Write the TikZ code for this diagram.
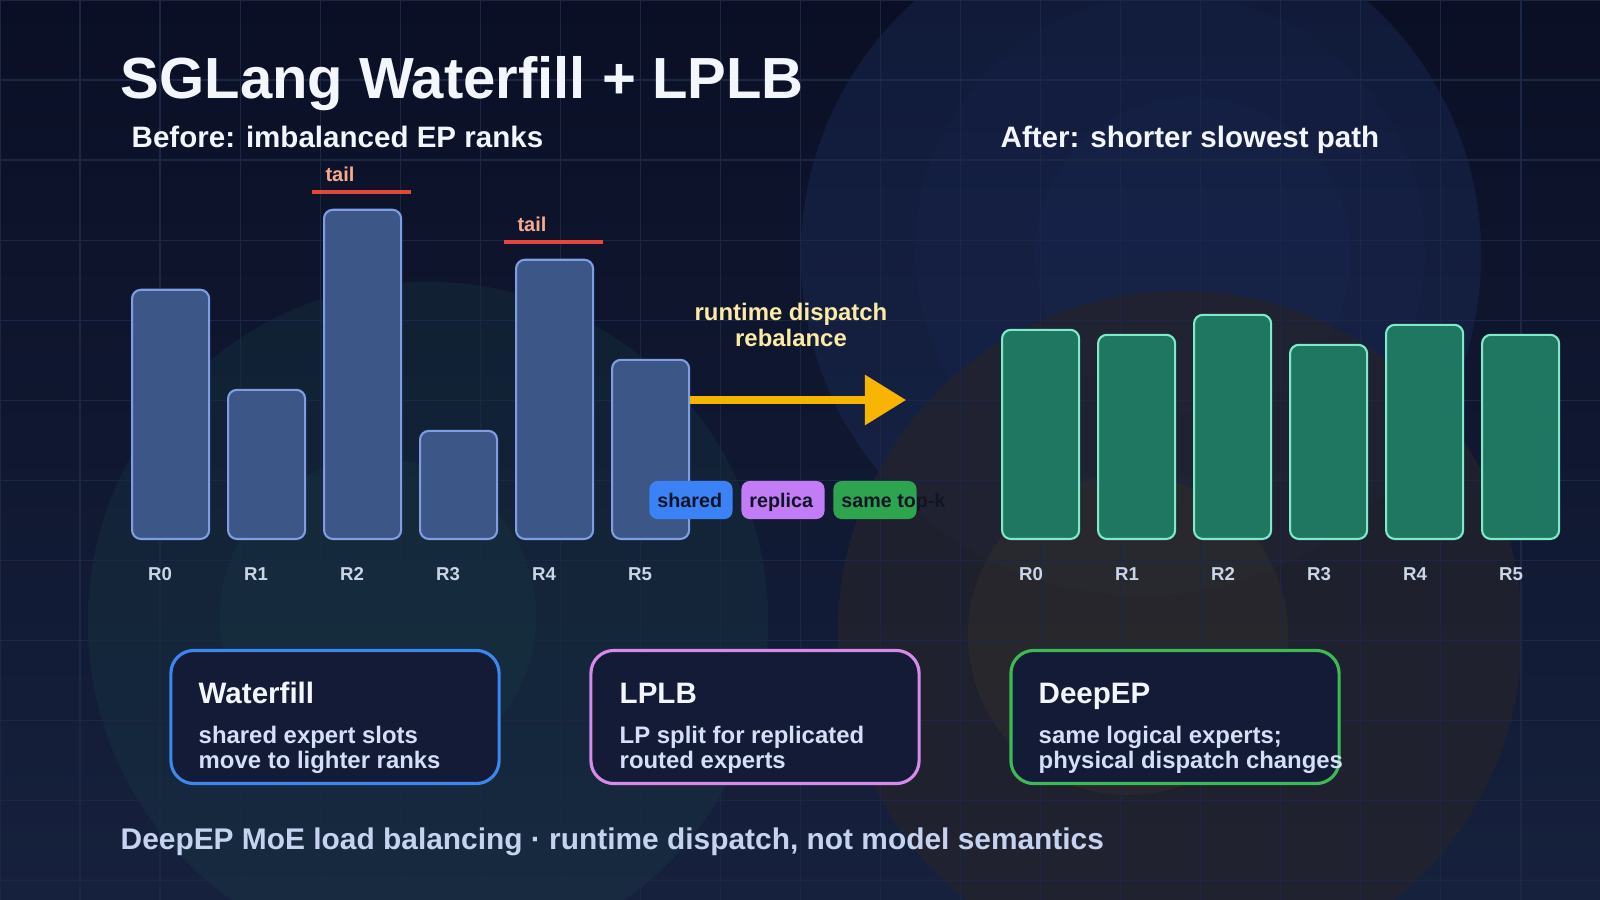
\documentclass[tikz,border=0pt]{standalone}
\usepackage{fontspec}
\setmainfont{Liberation Sans}
\usetikzlibrary{arrows.meta,positioning}
\definecolor{NightTop}{HTML}{0A0F25}
\definecolor{NightLow}{HTML}{16213D}
\definecolor{GridLine}{HTML}{1C2746}
\definecolor{BarBlue}{HTML}{3D5688}
\definecolor{BarEdge}{HTML}{7E9DE2}
\definecolor{BarGreen}{HTML}{1F7762}
\definecolor{GreenEdge}{HTML}{7FE9CA}
\definecolor{TailRed}{HTML}{E5473A}
\definecolor{TailText}{HTML}{F7A98F}
\definecolor{Amber}{HTML}{F7B500}
\definecolor{PaleYellow}{HTML}{FBEBA5}
\definecolor{TagBlue}{HTML}{3B82F6}
\definecolor{TagPurple}{HTML}{C27CF5}
\definecolor{TagGreen}{HTML}{2EA44F}
\definecolor{TagInk}{HTML}{0F1525}
\definecolor{BoxFill}{HTML}{141B36}
\definecolor{WaterEdge}{HTML}{3C86EE}
\definecolor{LPEdge}{HTML}{D68BEA}
\definecolor{DeepEdge}{HTML}{3DBA55}
\definecolor{SoftWhite}{HTML}{F3F6FB}
\definecolor{BodyText}{HTML}{D4E0F5}
\definecolor{RankText}{HTML}{CBD5E8}
\definecolor{FootText}{HTML}{C6D3F0}
\definecolor{GlowBlue}{HTML}{22356A}
\definecolor{GlowGrey}{HTML}{24232C}
\definecolor{GlowOlive}{HTML}{4A4226}
\definecolor{GlowTeal}{HTML}{1C4A4C}
\tikzset{
  oldbar/.style={draw=BarEdge, line width=0.6pt, fill=BarBlue, rounded corners=2.5pt,
    minimum width=0.77cm, inner sep=0pt, anchor=south west},
  newbar/.style={draw=GreenEdge, line width=0.6pt, fill=BarGreen, rounded corners=2.5pt,
    minimum width=0.77cm, inner sep=0pt, anchor=south west},
  infobox/.style={draw=#1, line width=0.9pt, fill=BoxFill, rounded corners=6.5pt,
    minimum width=3.28cm, minimum height=1.33cm, inner sep=0pt},
  pill/.style={fill=#1, rounded corners=2.3pt, minimum width=0.83cm,
    minimum height=0.38cm, inner sep=0pt},
  tagtext/.style={font=\fontsize{5.6}{6.5}\selectfont\bfseries, text=TagInk, inner sep=0pt,
    text height=4.2pt, text depth=0pt},
}

\begin{document}
\begin{tikzpicture}[x=0.01cm, y=-0.01cm,
  rlabel/.style={font=\fontsize{5.3}{6}\selectfont\bfseries, text=RankText, inner sep=0pt, anchor=base},
  boxhead/.style={font=\fontsize{8.4}{9.5}\selectfont\bfseries, text=SoftWhite, inner sep=0pt, anchor=base west},
  boxbody/.style={font=\fontsize{6.8}{7.1}\selectfont\bfseries, text=BodyText, inner sep=0pt,
    anchor=north west, align=left},
  tailtext/.style={font=\fontsize{5.7}{6.5}\selectfont\bfseries, text=TailText, inner sep=0pt, anchor=base},
  tailmark/.style={draw=TailRed, line width=1.1pt},
]
  \useasboundingbox (0,0) rectangle (1600,900);
  \shade[top color=NightTop, bottom color=NightLow] (0,0) rectangle (1600,900);
  % soft glows behind everything
  \fill[GlowBlue, opacity=0.3] (1141,255) circle[radius=3.4cm];
  \fill[GlowBlue, opacity=0.1] (1170,250) circle[radius=2.55cm];
  \fill[GlowBlue, opacity=0.1] (1193,255) circle[radius=1.58cm];
  \fill[GlowGrey, opacity=0.75] (1180,633) circle[radius=3.42cm];
  \fill[GlowOlive, opacity=0.2] (1128,635) circle[radius=1.6cm];
  \fill[GlowTeal, opacity=0.22] (428,622) circle[radius=3.4cm];
  \fill[GlowTeal, opacity=0.18] (378,617) circle[radius=1.58cm];
  \draw[GridLine, line width=0.35pt] (0,0) grid[step=0.8cm] (1600,900);

  \node[font=\fontsize{16.5}{19}\selectfont\bfseries, text=SoftWhite, inner sep=0pt, anchor=base west] (title) at (120,98) {SGLang Waterfill + LPLB};
  \node[font=\fontsize{8.4}{9.5}\selectfont\bfseries, text=SoftWhite, inner sep=0pt, anchor=base west] (before) at (131,147) {Before: imbalanced EP ranks};
  \node[font=\fontsize{8.4}{9.5}\selectfont\bfseries, text=SoftWhite, inner sep=0pt, anchor=base west] (after) at (1000,147) {After: shorter slowest path};

  % before: uneven ranks
  \node[oldbar, minimum height=2.49cm] (b0) at (131,540) {};
  \node[oldbar, minimum height=1.49cm] (b1) at (227,540) {};
  \node[oldbar, minimum height=3.29cm] (b2) at (323,540) {};
  \node[oldbar, minimum height=1.08cm] (b3) at (419,540) {};
  \node[oldbar, minimum height=2.79cm] (b4) at (515,540) {};
  \node[oldbar, minimum height=1.79cm] (b5) at (611,540) {};
  \node[rlabel] (r0) at (160,580) {R0};
  \node[rlabel] (r1) at (256,580) {R1};
  \node[rlabel] (r2) at (352,580) {R2};
  \node[rlabel] (r3) at (448,580) {R3};
  \node[rlabel] (r4) at (544,580) {R4};
  \node[rlabel] (r5) at (640,580) {R5};

  \draw[tailmark] (312,192) -- (411,192);
  \node[tailtext] (tail2) at (340,181) {tail};
  \draw[tailmark] (504,242) -- (603,242);
  \node[tailtext] (tail4) at (532,231) {tail};

  % after: levelled ranks
  \node[newbar, minimum height=2.09cm] (g0) at (1001,540) {};
  \node[newbar, minimum height=2.04cm] (g1) at (1097,540) {};
  \node[newbar, minimum height=2.24cm] (g2) at (1193,540) {};
  \node[newbar, minimum height=1.94cm] (g3) at (1289,540) {};
  \node[newbar, minimum height=2.14cm] (g4) at (1385,540) {};
  \node[newbar, minimum height=2.04cm] (g5) at (1481,540) {};
  \node[rlabel] (s0) at (1031,580) {R0};
  \node[rlabel] (s1) at (1127,580) {R1};
  \node[rlabel] (s2) at (1223,580) {R2};
  \node[rlabel] (s3) at (1319,580) {R3};
  \node[rlabel] (s4) at (1415,580) {R4};
  \node[rlabel] (s5) at (1511,580) {R5};

  \coordinate (tip) at (906,400);
  \draw[Amber, line width=2pt, -{Triangle[length=11.7pt,width=13.9pt]}] (b5.east |- tip) -- (tip);
  \node[font=\fontsize{6.8}{7.4}\selectfont\bfseries, text=PaleYellow, align=center] (rebal) at (791,325) {runtime dispatch\\rebalance};

  \node[pill=TagBlue] (pshared) at (691,500) {};
  \node[tagtext, right=0.08cm of pshared.west] (tshared) {shared};
  \node[pill=TagPurple] (preplica) at (783,500) {};
  \node[tagtext, right=0.08cm of preplica.west] (treplica) {replica};
  \node[pill=TagGreen] (ptopk) at (875,500) {};
  \node[tagtext, right=0.08cm of ptopk.west] (ttopk) {same top-k};

  % mechanism cards
  \node[infobox=WaterEdge] (wbox) at (335,717) {};
  \node[boxhead] (whead) at (198,703) {Waterfill};
  \node[boxbody] (wbody) at (198,725) {shared expert slots\\move to lighter ranks};
  \node[infobox=LPEdge] (lbox) at (755,717) {};
  \node[boxhead] (lhead) at (619,703) {LPLB};
  \node[boxbody] (lbody) at (619,725) {LP split for replicated\\routed experts};
  \node[infobox=DeepEdge] (dbox) at (1175,717) {};
  \node[boxhead] (dhead) at (1038,703) {DeepEP};
  \node[boxbody] (dbody) at (1038,725) {same logical experts;\\physical dispatch changes};

  \node[font=\fontsize{8.5}{9.5}\selectfont\bfseries, text=FootText, inner sep=0pt, anchor=base west] (foot) at (120,849) {DeepEP MoE load balancing · runtime dispatch, not model semantics};
\end{tikzpicture}
\end{document}
